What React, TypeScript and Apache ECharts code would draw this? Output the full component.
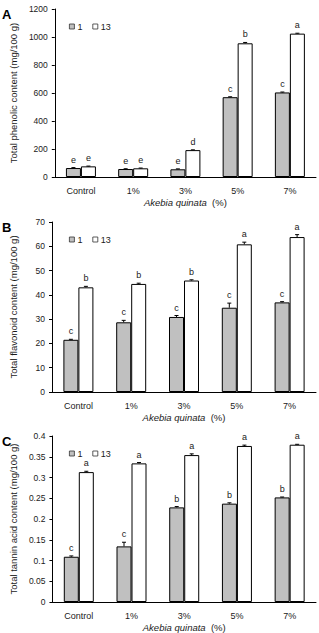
import React, { useEffect, useRef } from "react";
import * as echarts from "echarts";

// Treatments (percentage of Akebia quinata added)
const categories = ["Control", "1%", "3%", "5%", "7%"];
const seriesNames = ["1", "13"];

// A: total phenolic content (mg/100 g)
const phenolic1 = [64, 57, 55, 570, 604];
const phenolic13 = [76, 62, 192, 955, 1024];
const phenolicErr1 = [3, 2, 3, 3, 3];
const phenolicErr13 = [2, 2, 2, 6, 3];
const phenolicLetters1 = ["e", "e", "e", "c", "c"];
const phenolicLetters13 = ["e", "e", "d", "b", "a"];

// B: total flavonoid content (mg/100 g)
const flavonoid1 = [21.5, 28.7, 30.9, 34.7, 36.9];
const flavonoid13 = [43.1, 44.5, 45.9, 60.8, 63.8];
const flavonoidErr1 = [0.2, 0.8, 0.6, 1.9, 0.3];
const flavonoidErr13 = [0.4, 0.3, 0.3, 0.9, 1.0];
const flavonoidLetters1 = ["c", "c", "c", "c", "c"];
const flavonoidLetters13 = ["b", "b", "b", "a", "a"];

// C: total tannin acid content (mg/100 g)
const tannin1 = [0.109, 0.134, 0.228, 0.237, 0.252];
const tannin13 = [0.313, 0.334, 0.354, 0.376, 0.379];
const tanninErr1 = [0.002, 0.01, 0.002, 0.002, 0.001];
const tanninErr13 = [0.002, 0.002, 0.003, 0.002, 0.001];
const tanninLetters1 = ["c", "c", "b", "b", "b"];
const tanninLetters13 = ["a", "a", "a", "a", "a"];

const yTitles = [
  "Total phenolic content (mg/100 g)",
  "Total flavonoid content (mg/100 g)",
  "Total tannin acid content (mg/100 g)",
];
const yRanges = [
  { min: 0, max: 1200, interval: 200 },
  { min: 0, max: 70, interval: 10 },
  { min: 0, max: 0.4, interval: 0.05 },
];
const panelLetters = ["A", "B", "C"];

const TEXT = "#1a1a1a";
const GRAY = "#c0c0c0";
const FONT = "Liberation Sans, Arial, sans-serif";
const BAR_W = 15;

const grids = [
  { top: 9, height: 168 },
  { top: 222, height: 170 },
  { top: 436, height: 168 },
];

function errorSeries(
  gridIdx: number,
  values: number[],
  errs: number[],
  letters: string[],
  side: number
) {
  return {
    type: "custom",
    xAxisIndex: gridIdx,
    yAxisIndex: gridIdx,
    z: 5,
    silent: true,
    data: values.map((v, i) => [i, v, errs[i]]),
    renderItem: (params: any, api: any) => {
      const idx = api.value(0);
      const v = api.value(1);
      const e = api.value(2);
      const base = api.coord([idx, v]);
      const top = api.coord([idx, v + e]);
      const x = base[0] + side * (BAR_W / 2);
      return {
        type: "group",
        children: [
          {
            type: "line",
            shape: { x1: x, y1: base[1], x2: x, y2: top[1] },
            style: { stroke: "#000", lineWidth: 1 },
          },
          {
            type: "line",
            shape: { x1: x - 2, y1: top[1], x2: x + 2, y2: top[1] },
            style: { stroke: "#000", lineWidth: 1 },
          },
          {
            type: "text",
            style: {
              x: x,
              y: top[1] - 8,
              text: letters[params.dataIndex],
              fill: TEXT,
              font: `9px ${FONT}`,
              align: "center",
              verticalAlign: "middle",
            },
          },
        ],
      };
    },
  };
}

export default function App() {
  const ref = useRef<HTMLDivElement>(null);

  useEffect(() => {
    if (!ref.current) return;
    const chart = echarts.init(ref.current, undefined, { renderer: "svg" });

    const panels = [
      [phenolic1, phenolic13, phenolicErr1, phenolicErr13, phenolicLetters1, phenolicLetters13],
      [flavonoid1, flavonoid13, flavonoidErr1, flavonoidErr13, flavonoidLetters1, flavonoidLetters13],
      [tannin1, tannin13, tanninErr1, tanninErr13, tanninLetters1, tanninLetters13],
    ] as any[];

    const series: any[] = [];
    panels.forEach((p, g) => {
      series.push({
        type: "bar",
        name: seriesNames[0],
        xAxisIndex: g,
        yAxisIndex: g,
        data: p[0],
        barWidth: BAR_W,
        barGap: "0%",
        itemStyle: { color: GRAY, borderColor: "#000", borderWidth: 1 },
      });
      series.push({
        type: "bar",
        name: seriesNames[1],
        xAxisIndex: g,
        yAxisIndex: g,
        data: p[1],
        barWidth: BAR_W,
        barGap: "0%",
        itemStyle: { color: "#fff", borderColor: "#000", borderWidth: 1 },
      });
      series.push(errorSeries(g, p[0], p[2], p[4], -1));
      series.push(errorSeries(g, p[1], p[3], p[5], 1));
    });

    chart.setOption({
      animation: false,
      textStyle: { fontFamily: FONT },
      grid: grids.map((gr) => ({ left: 49, width: 267, top: gr.top, height: gr.height })),
      legend: grids.map((gr) => ({
        data: [
          {
            name: seriesNames[0],
            itemStyle: { color: GRAY, borderColor: "#333", borderWidth: 0.8 },
          },
          {
            name: seriesNames[1],
            itemStyle: { color: "#fff", borderColor: "#333", borderWidth: 0.8 },
          },
        ],
        left: 64,
        top: gr.top + 8,
        icon: "rect",
        itemWidth: 5,
        itemHeight: 5,
        itemGap: 10,
        selectedMode: false,
        textStyle: { fontSize: 9, color: TEXT, padding: [0, 0, 0, -2] },
      })),
      xAxis: grids.map((_, g) => ({
        type: "category",
        gridIndex: g,
        data: categories,
        axisLine: { lineStyle: { color: "#000", width: 1 } },
        axisTick: { inside: true, length: 3, lineStyle: { color: "#000" } },
        axisLabel: { fontSize: 9, color: TEXT, margin: 9 },
        name: "{i|Akebia quinata}  (%)",
        nameLocation: "middle",
        nameGap: 20,
        nameTextStyle: {
          fontSize: 9.5,
          color: TEXT,
          rich: { i: { fontStyle: "italic", fontSize: 9.5, color: TEXT } },
        },
      })),
      yAxis: grids.map((_, g) => ({
        type: "value",
        gridIndex: g,
        min: yRanges[g].min,
        max: yRanges[g].max,
        interval: yRanges[g].interval,
        splitLine: { show: false },
        axisLine: { show: true, lineStyle: { color: "#000", width: 1 } },
        axisTick: { show: true, length: 3, lineStyle: { color: "#000" } },
        axisLabel: {
          fontSize: 8.5,
          color: TEXT,
          margin: 7,
          formatter: (v: number) => String(parseFloat(v.toFixed(3))),
        },
        name: yTitles[g],
        nameLocation: "middle",
        nameGap: 34,
        nameTextStyle: { fontSize: 9.5, color: TEXT },
      })),
      graphic: panelLetters.map((t, g) => ({
        type: "text",
        left: 2,
        top: grids[g].top - 1,
        style: { text: t, font: `bold 13px ${FONT}`, fill: "#000" },
      })),
      series,
    });

    return () => chart.dispose();
  }, []);

  return (
    <div
      ref={ref}
      style={{ position: "absolute", left: 0, top: 0, width: 319, height: 633 }}
    />
  );
}
